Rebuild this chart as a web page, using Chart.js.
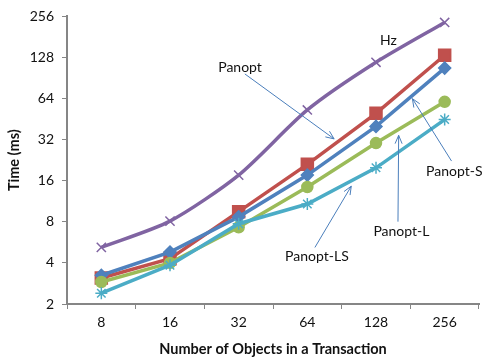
<!DOCTYPE html>
<html>
<head>
<meta charset="utf-8">
<script src="https://cdn.jsdelivr.net/npm/chart.js@4.4.1/dist/chart.umd.min.js"></script>
<style>
  html, body { margin: 0; padding: 0; background: #fff; }
  #wrap { width: 489px; height: 358px; }
</style>
</head>
<body>
<div id="wrap"><canvas id="chart"></canvas></div>
<script>
const categories = ['8', '16', '32', '64', '128', '256'];
const hz = [5.2, 8.1, 17.6, 52.8, 118, 231];
const panopt = [3.1, 4.3, 9.5, 21.1, 49.9, 133];
const panoptS = [3.25, 4.8, 8.7, 17.6, 40, 107];
const panoptL = [2.9, 4.0, 7.3, 14.4, 30.2, 60.6];
const panoptLS = [2.4, 3.85, 7.75, 10.8, 19.9, 44.9];
const yTicks = [2, 4, 8, 16, 32, 64, 128, 256];

// callout labels, placed as (category index, value)
const callouts = [
  { text: 'Hz', at: [4.18, 171] },
  { text: 'Panopt', at: [2.02, 109], from: [2.09, 97], to: [3.39, 32.4] },
  { text: 'Panopt-S', at: [5.14, 18.8], from: [5.10, 22.3], to: [4.53, 63.9] },
  { text: 'Panopt-L', at: [4.37, 6.78], from: [4.32, 8.02], to: [4.33, 34.4] },
  { text: 'Panopt-LS', at: [3.14, 4.47], from: [3.11, 5.19], to: [3.64, 14.6] }
];

const FONT = 'Lato, "Open Sans", sans-serif';
const axisGray = '#868686';

const calloutPlugin = {
  id: 'callouts',
  afterDatasetsDraw(chart) {
    const ctx = chart.ctx;
    const xs = chart.scales.x, ys = chart.scales.y;
    const px = p => [xs.getPixelForValue(p[0]), ys.getPixelForValue(p[1])];
    ctx.save();
    callouts.forEach(c => {
      if (c.from) {
        const [x1, y1] = px(c.from);
        const [x2, y2] = px(c.to);
        ctx.strokeStyle = '#4a7ebb';
        ctx.lineWidth = 1;
        ctx.beginPath();
        ctx.moveTo(x1, y1);
        ctx.lineTo(x2, y2);
        const a = Math.atan2(y2 - y1, x2 - x1);
        const len = 9, spread = 0.4;
        ctx.moveTo(x2 - len * Math.cos(a - spread), y2 - len * Math.sin(a - spread));
        ctx.lineTo(x2, y2);
        ctx.lineTo(x2 - len * Math.cos(a + spread), y2 - len * Math.sin(a + spread));
        ctx.stroke();
      }
      const [tx, ty] = px(c.at);
      ctx.fillStyle = '#111';
      ctx.font = '14px ' + FONT;
      ctx.textAlign = 'center';
      ctx.textBaseline = 'middle';
      ctx.fillText(c.text, tx, ty);
    });
    ctx.restore();
  }
};

const series = [
  { label: 'Panopt-LS', data: panoptLS, color: '#4bacc6', style: 'star', r: 6 },
  { label: 'Panopt-L', data: panoptL, color: '#9bbb59', style: 'circle', r: 5.5 },
  { label: 'Panopt-S', data: panoptS, color: '#4f81bd', style: 'rectRot', r: 6 },
  { label: 'Panopt', data: panopt, color: '#c0504d', style: 'rect', r: 8.5 },
  { label: 'Hz', data: hz, color: '#8064a2', style: 'crossRot', r: 6.5 }
];

new Chart(document.getElementById('chart'), {
  type: 'line',
  data: {
    labels: categories,
    datasets: series.map(s => ({
      label: s.label,
      data: s.data,
      borderColor: s.color,
      backgroundColor: s.color,
      borderWidth: 3.5,
      pointStyle: s.style,
      pointRadius: s.r,
      pointBorderWidth: 1.5,
      pointBorderColor: s.color,
      pointBackgroundColor: s.color,
      tension: s.label === 'Hz' ? 0.25 : 0
    }))
  },
  options: {
    responsive: true,
    maintainAspectRatio: false,
    animation: false,
    layout: { padding: { top: 14, right: 5, left: 0, bottom: 0 } },
    plugins: {
      legend: { display: false },
      tooltip: { enabled: false }
    },
    scales: {
      x: {
        offset: true,
        grid: { offset: true, drawOnChartArea: false, tickLength: 5, color: axisGray },
        border: { color: axisGray, width: 2 },
        ticks: { color: '#111', font: { family: FONT, size: 14 }, padding: 5, maxRotation: 0 },
        title: {
          display: true, text: 'Number of Objects in a Transaction', color: '#111',
          font: { family: FONT, size: 14.5, weight: 'bold' }, padding: { top: 5, bottom: 0 }
        },
        afterFit: s => { s.height = 54; }
      },
      y: {
        type: 'logarithmic',
        min: 2,
        max: 256,
        afterBuildTicks: s => { s.ticks = yTicks.map(v => ({ value: v })); },
        grid: { drawOnChartArea: false, tickLength: 5, color: axisGray },
        border: { color: axisGray, width: 2 },
        ticks: { color: '#111', font: { family: FONT, size: 14 }, padding: 8, callback: v => String(v) },
        title: {
          display: true, text: 'Time (ms)', color: '#111',
          font: { family: FONT, size: 14.5, weight: 'bold' }, padding: { top: 6, bottom: 0 }
        },
        afterFit: s => { s.width = 67; }
      }
    }
  },
  plugins: [calloutPlugin]
});
</script>
</body>
</html>
